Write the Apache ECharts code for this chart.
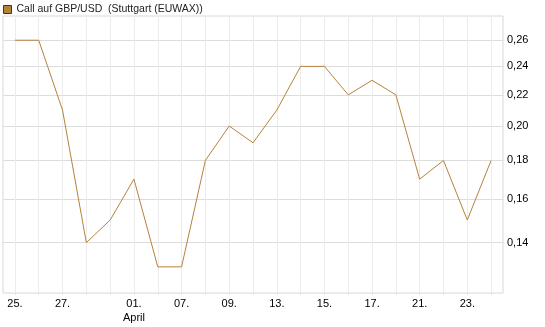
<!DOCTYPE html>
<html>
<head>
<meta charset="utf-8">
<script src="https://cdn.jsdelivr.net/npm/echarts@6/dist/echarts.min.js"></script>
<style>
  html, body { margin: 0; padding: 0; background: #fff; }
  #chart { width: 545px; height: 327px; }
</style>
</head>
<body>
<div id="chart"></div>
<script>
// Handelstage 25.03. - 24.04.
const dates = [
  "25.03.", "26.03.", "27.03.", "30.03.", "31.03.", "01.04.", "02.04.",
  "07.04.", "08.04.", "09.04.", "10.04.", "13.04.", "14.04.", "15.04.",
  "16.04.", "17.04.", "20.04.", "21.04.", "22.04.", "23.04.", "24.04."
];
const prices = [
  0.26, 0.26, 0.21, 0.14, 0.15, 0.17, 0.13,
  0.13, 0.18, 0.20, 0.19, 0.21, 0.24, 0.24,
  0.22, 0.23, 0.22, 0.17, 0.18, 0.15, 0.18
];
// which dates get a label on the x axis
const labelDates = ["25.03.", "27.03.", "01.04.", "07.04.", "09.04.", "13.04.", "15.04.", "17.04.", "21.04.", "23.04."];
const yTicks = [0.14, 0.16, 0.18, 0.20, 0.22, 0.24, 0.26];
const seriesName = "Call auf GBP/USD  (Stuttgart (EUWAX))";

const chart = echarts.init(document.getElementById("chart"));

const option = {
  animation: false,
  textStyle: { fontFamily: "Liberation Sans, Arial, sans-serif" },
  legend: {
    left: 3,
    top: 4,
    padding: 0,
    icon: "rect",
    itemWidth: 8,
    itemHeight: 8,
    itemGap: 4,
    textStyle: { fontSize: 10.5, color: "#222" },
    data: [{
      name: seriesName,
      itemStyle: { color: "#b5823c", borderColor: "#4a3418", borderWidth: 1 }
    }]
  },
  grid: {
    left: 3,
    right: 42,
    top: 16,
    bottom: 34,
    show: true,
    borderColor: "#d8d8d8",
    borderWidth: 1
  },
  xAxis: {
    type: "category",
    boundaryGap: true,
    data: dates,
    axisLine: { show: false },
    axisTick: {
      show: true,
      alignWithLabel: true,
      interval: 0,
      length: 2,
      lineStyle: { color: "#e4e4e4" }
    },
    splitLine: {
      show: true,
      alignWithLabel: true,
      interval: 0,
      lineStyle: { color: "#ececec", width: 1 }
    },
    axisLabel: {
      interval: function (idx) {
        return labelDates.indexOf(dates[idx]) >= 0;
      },
      formatter: function (v) {
        const d = v.substr(0, 3);
        return v === "01.04." ? d + "\nApril" : d;
      },
      margin: 4,
      fontSize: 11,
      lineHeight: 14,
      color: "#000"
    }
  },
  yAxis: {
    type: "log",
    logBase: 10,
    position: "right",
    min: 0.12,
    max: 0.28,
    axisLine: { show: false },
    axisTick: { show: false, customValues: yTicks },
    splitLine: {
      show: true,
      lineStyle: { color: "#dcdcdc", width: 1 }
    },
    axisLabel: {
      customValues: yTicks,
      margin: 4,
      fontSize: 11,
      color: "#000",
      formatter: function (v) {
        return v.toFixed(2).replace(".", ",");
      }
    }
  },
  series: [{
    name: seriesName,
    type: "line",
    data: prices,
    showSymbol: false,
    symbol: "none",
    lineStyle: { color: "#b5823c", width: 1 },
    itemStyle: { color: "#b5823c" }
  }]
};

chart.setOption(option);
</script>
</body>
</html>
